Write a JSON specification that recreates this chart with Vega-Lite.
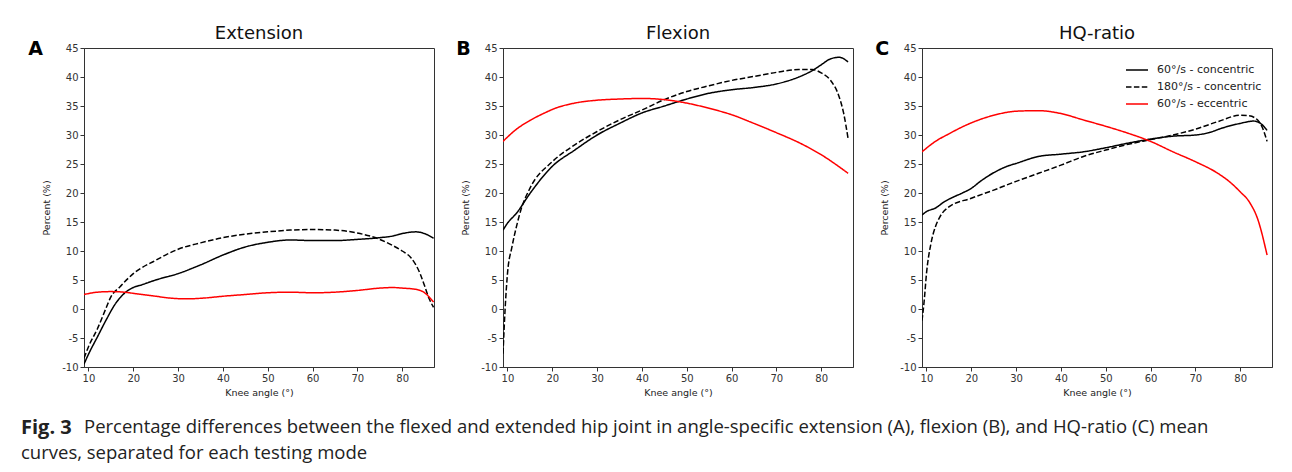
{
  "$schema": "https://vega.github.io/schema/vega-lite/v6.json",
  "padding": {"left": 21, "top": 24, "right": 5, "bottom": 5},
  "background": "white",
  "config": {
    "font": "DejaVu Sans",
    "view": {"stroke": "#333333", "strokeWidth": 1},
    "axis": {"grid": false, "labelFontSize": 10, "labelColor": "#333333", "labelFont": "DejaVu Sans", "tickColor": "#333333", "domainColor": "#333333", "titleFontSize": 9.5, "titleFontWeight": "normal", "titleColor": "#222222", "titleFont": "DejaVu Sans", "tickSize": 4, "labelPadding": 2, "labelExpr": "'' + datum.value"},
    "axisY": {"titlePadding": 10},
    "title": {"fontSize": 18, "fontWeight": "normal", "color": "#111111", "font": "DejaVu Sans"},
    "legend": {"labelFontSize": 11, "labelColor": "#222222", "labelFont": "DejaVu Sans", "symbolType": "stroke", "symbolStrokeWidth": 1.5, "symbolSize": 484, "rowPadding": -5, "labelOffset": 8, "padding": 0}
  },
  "title": {"text": "curves, separated for each testing mode", "orient": "bottom", "anchor": "start", "frame": "group", "font": "Open Sans", "fontSize": 18.5, "fontWeight": "normal", "color": "#222222", "offset": 6, "dx": -63},
  "datasets": {
    "curves": [
      {"panel": "A", "mode": "60°/s - concentric", "angle": 9, "pct": -9.5},
      {"panel": "A", "mode": "60°/s - concentric", "angle": 10, "pct": -7.8},
      {"panel": "A", "mode": "60°/s - concentric", "angle": 12, "pct": -4.8},
      {"panel": "A", "mode": "60°/s - concentric", "angle": 14, "pct": -1.8},
      {"panel": "A", "mode": "60°/s - concentric", "angle": 16, "pct": 0.9},
      {"panel": "A", "mode": "60°/s - concentric", "angle": 18, "pct": 2.7},
      {"panel": "A", "mode": "60°/s - concentric", "angle": 20, "pct": 3.7},
      {"panel": "A", "mode": "60°/s - concentric", "angle": 22, "pct": 4.2},
      {"panel": "A", "mode": "60°/s - concentric", "angle": 25, "pct": 5.0},
      {"panel": "A", "mode": "60°/s - concentric", "angle": 30, "pct": 6.1},
      {"panel": "A", "mode": "60°/s - concentric", "angle": 35, "pct": 7.6},
      {"panel": "A", "mode": "60°/s - concentric", "angle": 40, "pct": 9.3},
      {"panel": "A", "mode": "60°/s - concentric", "angle": 45, "pct": 10.7},
      {"panel": "A", "mode": "60°/s - concentric", "angle": 50, "pct": 11.5},
      {"panel": "A", "mode": "60°/s - concentric", "angle": 55, "pct": 11.9},
      {"panel": "A", "mode": "60°/s - concentric", "angle": 60, "pct": 11.8},
      {"panel": "A", "mode": "60°/s - concentric", "angle": 65, "pct": 11.8},
      {"panel": "A", "mode": "60°/s - concentric", "angle": 70, "pct": 12.0},
      {"panel": "A", "mode": "60°/s - concentric", "angle": 75, "pct": 12.3},
      {"panel": "A", "mode": "60°/s - concentric", "angle": 78, "pct": 12.6},
      {"panel": "A", "mode": "60°/s - concentric", "angle": 80, "pct": 13.0},
      {"panel": "A", "mode": "60°/s - concentric", "angle": 83, "pct": 13.3},
      {"panel": "A", "mode": "60°/s - concentric", "angle": 85, "pct": 13.0},
      {"panel": "A", "mode": "60°/s - concentric", "angle": 87, "pct": 12.2},
      {"panel": "A", "mode": "180°/s - concentric", "angle": 9, "pct": -8.5},
      {"panel": "A", "mode": "180°/s - concentric", "angle": 10, "pct": -6.5},
      {"panel": "A", "mode": "180°/s - concentric", "angle": 12, "pct": -3.4},
      {"panel": "A", "mode": "180°/s - concentric", "angle": 14, "pct": 0.3},
      {"panel": "A", "mode": "180°/s - concentric", "angle": 15, "pct": 2.1},
      {"panel": "A", "mode": "180°/s - concentric", "angle": 17, "pct": 3.8},
      {"panel": "A", "mode": "180°/s - concentric", "angle": 20, "pct": 6.1},
      {"panel": "A", "mode": "180°/s - concentric", "angle": 25, "pct": 8.4},
      {"panel": "A", "mode": "180°/s - concentric", "angle": 30, "pct": 10.3},
      {"panel": "A", "mode": "180°/s - concentric", "angle": 35, "pct": 11.4},
      {"panel": "A", "mode": "180°/s - concentric", "angle": 40, "pct": 12.3},
      {"panel": "A", "mode": "180°/s - concentric", "angle": 45, "pct": 12.9},
      {"panel": "A", "mode": "180°/s - concentric", "angle": 50, "pct": 13.3},
      {"panel": "A", "mode": "180°/s - concentric", "angle": 55, "pct": 13.6},
      {"panel": "A", "mode": "180°/s - concentric", "angle": 60, "pct": 13.7},
      {"panel": "A", "mode": "180°/s - concentric", "angle": 65, "pct": 13.6},
      {"panel": "A", "mode": "180°/s - concentric", "angle": 70, "pct": 13.1},
      {"panel": "A", "mode": "180°/s - concentric", "angle": 75, "pct": 12.0},
      {"panel": "A", "mode": "180°/s - concentric", "angle": 78, "pct": 10.9},
      {"panel": "A", "mode": "180°/s - concentric", "angle": 80, "pct": 10.0},
      {"panel": "A", "mode": "180°/s - concentric", "angle": 82, "pct": 8.8},
      {"panel": "A", "mode": "180°/s - concentric", "angle": 84, "pct": 6.1},
      {"panel": "A", "mode": "180°/s - concentric", "angle": 85, "pct": 4.0},
      {"panel": "A", "mode": "180°/s - concentric", "angle": 86, "pct": 1.8},
      {"panel": "A", "mode": "180°/s - concentric", "angle": 87, "pct": 0.3},
      {"panel": "A", "mode": "60°/s - eccentric", "angle": 9, "pct": 2.5},
      {"panel": "A", "mode": "60°/s - eccentric", "angle": 12, "pct": 2.9},
      {"panel": "A", "mode": "60°/s - eccentric", "angle": 15, "pct": 3.0},
      {"panel": "A", "mode": "60°/s - eccentric", "angle": 18, "pct": 2.9},
      {"panel": "A", "mode": "60°/s - eccentric", "angle": 20, "pct": 2.7},
      {"panel": "A", "mode": "60°/s - eccentric", "angle": 25, "pct": 2.2},
      {"panel": "A", "mode": "60°/s - eccentric", "angle": 28, "pct": 1.9},
      {"panel": "A", "mode": "60°/s - eccentric", "angle": 32, "pct": 1.75},
      {"panel": "A", "mode": "60°/s - eccentric", "angle": 36, "pct": 1.9},
      {"panel": "A", "mode": "60°/s - eccentric", "angle": 40, "pct": 2.2},
      {"panel": "A", "mode": "60°/s - eccentric", "angle": 45, "pct": 2.5},
      {"panel": "A", "mode": "60°/s - eccentric", "angle": 50, "pct": 2.8},
      {"panel": "A", "mode": "60°/s - eccentric", "angle": 55, "pct": 2.9},
      {"panel": "A", "mode": "60°/s - eccentric", "angle": 60, "pct": 2.8},
      {"panel": "A", "mode": "60°/s - eccentric", "angle": 65, "pct": 2.9},
      {"panel": "A", "mode": "60°/s - eccentric", "angle": 70, "pct": 3.2},
      {"panel": "A", "mode": "60°/s - eccentric", "angle": 75, "pct": 3.6},
      {"panel": "A", "mode": "60°/s - eccentric", "angle": 78, "pct": 3.7},
      {"panel": "A", "mode": "60°/s - eccentric", "angle": 80, "pct": 3.6},
      {"panel": "A", "mode": "60°/s - eccentric", "angle": 83, "pct": 3.4},
      {"panel": "A", "mode": "60°/s - eccentric", "angle": 85, "pct": 2.8},
      {"panel": "A", "mode": "60°/s - eccentric", "angle": 87, "pct": 1.2},
      {"panel": "B", "mode": "60°/s - concentric", "angle": 9, "pct": 13.6},
      {"panel": "B", "mode": "60°/s - concentric", "angle": 10, "pct": 14.8},
      {"panel": "B", "mode": "60°/s - concentric", "angle": 12, "pct": 16.5},
      {"panel": "B", "mode": "60°/s - concentric", "angle": 15, "pct": 19.9},
      {"panel": "B", "mode": "60°/s - concentric", "angle": 20, "pct": 24.6},
      {"panel": "B", "mode": "60°/s - concentric", "angle": 25, "pct": 27.4},
      {"panel": "B", "mode": "60°/s - concentric", "angle": 30, "pct": 30.0},
      {"panel": "B", "mode": "60°/s - concentric", "angle": 35, "pct": 32.0},
      {"panel": "B", "mode": "60°/s - concentric", "angle": 40, "pct": 33.8},
      {"panel": "B", "mode": "60°/s - concentric", "angle": 45, "pct": 35.0},
      {"panel": "B", "mode": "60°/s - concentric", "angle": 50, "pct": 36.2},
      {"panel": "B", "mode": "60°/s - concentric", "angle": 55, "pct": 37.2},
      {"panel": "B", "mode": "60°/s - concentric", "angle": 60, "pct": 37.8},
      {"panel": "B", "mode": "60°/s - concentric", "angle": 65, "pct": 38.2},
      {"panel": "B", "mode": "60°/s - concentric", "angle": 70, "pct": 38.8},
      {"panel": "B", "mode": "60°/s - concentric", "angle": 75, "pct": 40.0},
      {"panel": "B", "mode": "60°/s - concentric", "angle": 78, "pct": 41.1},
      {"panel": "B", "mode": "60°/s - concentric", "angle": 80, "pct": 42.1},
      {"panel": "B", "mode": "60°/s - concentric", "angle": 82, "pct": 43.1},
      {"panel": "B", "mode": "60°/s - concentric", "angle": 84, "pct": 43.4},
      {"panel": "B", "mode": "60°/s - concentric", "angle": 86, "pct": 42.6},
      {"panel": "B", "mode": "180°/s - concentric", "angle": 9, "pct": -7.7},
      {"panel": "B", "mode": "180°/s - concentric", "angle": 9.5, "pct": 0.4},
      {"panel": "B", "mode": "180°/s - concentric", "angle": 10, "pct": 6.1},
      {"panel": "B", "mode": "180°/s - concentric", "angle": 11, "pct": 10.7},
      {"panel": "B", "mode": "180°/s - concentric", "angle": 12, "pct": 14.2},
      {"panel": "B", "mode": "180°/s - concentric", "angle": 13, "pct": 17.1},
      {"panel": "B", "mode": "180°/s - concentric", "angle": 15, "pct": 20.8},
      {"panel": "B", "mode": "180°/s - concentric", "angle": 20, "pct": 25.4},
      {"panel": "B", "mode": "180°/s - concentric", "angle": 25, "pct": 28.3},
      {"panel": "B", "mode": "180°/s - concentric", "angle": 30, "pct": 30.6},
      {"panel": "B", "mode": "180°/s - concentric", "angle": 35, "pct": 32.6},
      {"panel": "B", "mode": "180°/s - concentric", "angle": 40, "pct": 34.3},
      {"panel": "B", "mode": "180°/s - concentric", "angle": 45, "pct": 36.1},
      {"panel": "B", "mode": "180°/s - concentric", "angle": 50, "pct": 37.5},
      {"panel": "B", "mode": "180°/s - concentric", "angle": 55, "pct": 38.5},
      {"panel": "B", "mode": "180°/s - concentric", "angle": 60, "pct": 39.4},
      {"panel": "B", "mode": "180°/s - concentric", "angle": 65, "pct": 40.1},
      {"panel": "B", "mode": "180°/s - concentric", "angle": 70, "pct": 40.8},
      {"panel": "B", "mode": "180°/s - concentric", "angle": 75, "pct": 41.3},
      {"panel": "B", "mode": "180°/s - concentric", "angle": 78, "pct": 41.3},
      {"panel": "B", "mode": "180°/s - concentric", "angle": 80, "pct": 40.7},
      {"panel": "B", "mode": "180°/s - concentric", "angle": 82, "pct": 39.5},
      {"panel": "B", "mode": "180°/s - concentric", "angle": 84, "pct": 36.6},
      {"panel": "B", "mode": "180°/s - concentric", "angle": 85, "pct": 33.8},
      {"panel": "B", "mode": "180°/s - concentric", "angle": 86, "pct": 29.4},
      {"panel": "B", "mode": "60°/s - eccentric", "angle": 9, "pct": 28.9},
      {"panel": "B", "mode": "60°/s - eccentric", "angle": 12, "pct": 31.0},
      {"panel": "B", "mode": "60°/s - eccentric", "angle": 15, "pct": 32.5},
      {"panel": "B", "mode": "60°/s - eccentric", "angle": 18, "pct": 33.7},
      {"panel": "B", "mode": "60°/s - eccentric", "angle": 21, "pct": 34.7},
      {"panel": "B", "mode": "60°/s - eccentric", "angle": 25, "pct": 35.5},
      {"panel": "B", "mode": "60°/s - eccentric", "angle": 30, "pct": 36.0},
      {"panel": "B", "mode": "60°/s - eccentric", "angle": 35, "pct": 36.2},
      {"panel": "B", "mode": "60°/s - eccentric", "angle": 40, "pct": 36.3},
      {"panel": "B", "mode": "60°/s - eccentric", "angle": 45, "pct": 36.1},
      {"panel": "B", "mode": "60°/s - eccentric", "angle": 50, "pct": 35.5},
      {"panel": "B", "mode": "60°/s - eccentric", "angle": 55, "pct": 34.6},
      {"panel": "B", "mode": "60°/s - eccentric", "angle": 60, "pct": 33.5},
      {"panel": "B", "mode": "60°/s - eccentric", "angle": 65, "pct": 32.0},
      {"panel": "B", "mode": "60°/s - eccentric", "angle": 70, "pct": 30.4},
      {"panel": "B", "mode": "60°/s - eccentric", "angle": 75, "pct": 28.7},
      {"panel": "B", "mode": "60°/s - eccentric", "angle": 80, "pct": 26.6},
      {"panel": "B", "mode": "60°/s - eccentric", "angle": 86, "pct": 23.4},
      {"panel": "C", "mode": "60°/s - concentric", "angle": 9, "pct": 16.2},
      {"panel": "C", "mode": "60°/s - concentric", "angle": 10, "pct": 16.8},
      {"panel": "C", "mode": "60°/s - concentric", "angle": 12, "pct": 17.4},
      {"panel": "C", "mode": "60°/s - concentric", "angle": 14, "pct": 18.5},
      {"panel": "C", "mode": "60°/s - concentric", "angle": 16, "pct": 19.3},
      {"panel": "C", "mode": "60°/s - concentric", "angle": 18, "pct": 20.0},
      {"panel": "C", "mode": "60°/s - concentric", "angle": 20, "pct": 20.8},
      {"panel": "C", "mode": "60°/s - concentric", "angle": 22, "pct": 22.0},
      {"panel": "C", "mode": "60°/s - concentric", "angle": 25, "pct": 23.5},
      {"panel": "C", "mode": "60°/s - concentric", "angle": 28, "pct": 24.6},
      {"panel": "C", "mode": "60°/s - concentric", "angle": 30, "pct": 25.1},
      {"panel": "C", "mode": "60°/s - concentric", "angle": 35, "pct": 26.3},
      {"panel": "C", "mode": "60°/s - concentric", "angle": 40, "pct": 26.7},
      {"panel": "C", "mode": "60°/s - concentric", "angle": 45, "pct": 27.1},
      {"panel": "C", "mode": "60°/s - concentric", "angle": 50, "pct": 27.8},
      {"panel": "C", "mode": "60°/s - concentric", "angle": 55, "pct": 28.6},
      {"panel": "C", "mode": "60°/s - concentric", "angle": 60, "pct": 29.3},
      {"panel": "C", "mode": "60°/s - concentric", "angle": 65, "pct": 29.8},
      {"panel": "C", "mode": "60°/s - concentric", "angle": 70, "pct": 30.0},
      {"panel": "C", "mode": "60°/s - concentric", "angle": 73, "pct": 30.4},
      {"panel": "C", "mode": "60°/s - concentric", "angle": 76, "pct": 31.2},
      {"panel": "C", "mode": "60°/s - concentric", "angle": 80, "pct": 32.0},
      {"panel": "C", "mode": "60°/s - concentric", "angle": 83, "pct": 32.4},
      {"panel": "C", "mode": "60°/s - concentric", "angle": 85, "pct": 31.7},
      {"panel": "C", "mode": "60°/s - concentric", "angle": 86, "pct": 30.8},
      {"panel": "C", "mode": "180°/s - concentric", "angle": 9, "pct": -2.0},
      {"panel": "C", "mode": "180°/s - concentric", "angle": 9.5, "pct": 1.5},
      {"panel": "C", "mode": "180°/s - concentric", "angle": 10, "pct": 6.1},
      {"panel": "C", "mode": "180°/s - concentric", "angle": 11, "pct": 11.3},
      {"panel": "C", "mode": "180°/s - concentric", "angle": 12, "pct": 14.2},
      {"panel": "C", "mode": "180°/s - concentric", "angle": 13, "pct": 15.9},
      {"panel": "C", "mode": "180°/s - concentric", "angle": 15, "pct": 17.6},
      {"panel": "C", "mode": "180°/s - concentric", "angle": 20, "pct": 19.1},
      {"panel": "C", "mode": "180°/s - concentric", "angle": 25, "pct": 20.5},
      {"panel": "C", "mode": "180°/s - concentric", "angle": 30, "pct": 22.0},
      {"panel": "C", "mode": "180°/s - concentric", "angle": 35, "pct": 23.4},
      {"panel": "C", "mode": "180°/s - concentric", "angle": 40, "pct": 24.8},
      {"panel": "C", "mode": "180°/s - concentric", "angle": 45, "pct": 26.3},
      {"panel": "C", "mode": "180°/s - concentric", "angle": 50, "pct": 27.4},
      {"panel": "C", "mode": "180°/s - concentric", "angle": 55, "pct": 28.4},
      {"panel": "C", "mode": "180°/s - concentric", "angle": 60, "pct": 29.2},
      {"panel": "C", "mode": "180°/s - concentric", "angle": 65, "pct": 30.0},
      {"panel": "C", "mode": "180°/s - concentric", "angle": 70, "pct": 31.0},
      {"panel": "C", "mode": "180°/s - concentric", "angle": 75, "pct": 32.3},
      {"panel": "C", "mode": "180°/s - concentric", "angle": 80, "pct": 33.4},
      {"panel": "C", "mode": "180°/s - concentric", "angle": 82, "pct": 33.3},
      {"panel": "C", "mode": "180°/s - concentric", "angle": 84, "pct": 32.5},
      {"panel": "C", "mode": "180°/s - concentric", "angle": 85, "pct": 31.2},
      {"panel": "C", "mode": "180°/s - concentric", "angle": 86, "pct": 28.9},
      {"panel": "C", "mode": "60°/s - eccentric", "angle": 9, "pct": 27.1},
      {"panel": "C", "mode": "60°/s - eccentric", "angle": 12, "pct": 28.9},
      {"panel": "C", "mode": "60°/s - eccentric", "angle": 15, "pct": 30.2},
      {"panel": "C", "mode": "60°/s - eccentric", "angle": 18, "pct": 31.4},
      {"panel": "C", "mode": "60°/s - eccentric", "angle": 21, "pct": 32.4},
      {"panel": "C", "mode": "60°/s - eccentric", "angle": 25, "pct": 33.4},
      {"panel": "C", "mode": "60°/s - eccentric", "angle": 30, "pct": 34.1},
      {"panel": "C", "mode": "60°/s - eccentric", "angle": 35, "pct": 34.2},
      {"panel": "C", "mode": "60°/s - eccentric", "angle": 40, "pct": 33.7},
      {"panel": "C", "mode": "60°/s - eccentric", "angle": 45, "pct": 32.6},
      {"panel": "C", "mode": "60°/s - eccentric", "angle": 50, "pct": 31.5},
      {"panel": "C", "mode": "60°/s - eccentric", "angle": 55, "pct": 30.3},
      {"panel": "C", "mode": "60°/s - eccentric", "angle": 60, "pct": 28.9},
      {"panel": "C", "mode": "60°/s - eccentric", "angle": 65, "pct": 27.1},
      {"panel": "C", "mode": "60°/s - eccentric", "angle": 70, "pct": 25.4},
      {"panel": "C", "mode": "60°/s - eccentric", "angle": 75, "pct": 23.4},
      {"panel": "C", "mode": "60°/s - eccentric", "angle": 78, "pct": 21.7},
      {"panel": "C", "mode": "60°/s - eccentric", "angle": 80, "pct": 20.2},
      {"panel": "C", "mode": "60°/s - eccentric", "angle": 82, "pct": 18.5},
      {"panel": "C", "mode": "60°/s - eccentric", "angle": 84, "pct": 15.3},
      {"panel": "C", "mode": "60°/s - eccentric", "angle": 86, "pct": 9.3}
    ]
  },
  "vconcat": [
    {
      "title": {"text": "Percentage differences between the flexed and extended hip joint in angle-specific extension (A), flexion (B), and HQ-ratio (C) mean", "orient": "bottom", "anchor": "start", "frame": "group", "font": "Open Sans", "fontSize": 18.5, "fontWeight": "normal", "color": "#222222", "dx": 0, "dy": -20, "offset": 0},
      "vconcat": [
        {
          "title": {"text": "Fig. 3", "orient": "bottom", "anchor": "start", "frame": "group", "font": "Open Sans", "fontSize": 20, "fontWeight": "bold", "color": "#222222", "offset": 21, "dx": -63},
          "hconcat": [
            {
              "title": {"text": "A", "anchor": "start", "frame": "bounds", "fontSize": 19, "fontWeight": "bold", "color": "#000000", "dy": 34, "dx": -13, "offset": 0},
              "resolve": {"legend": {"color": "independent", "strokeDash": "independent"}},
              "vconcat": [
                {
                  "width": 350, "height": 319,
                  "title": {"text": "Extension", "offset": 0},
                  "data": {"name": "curves"},
                  "transform": [{"filter": "datum.panel === 'A'"}],
                  "mark": {"type": "line", "strokeWidth": 1.5, "interpolate": "monotone", "clip": true},
                  "encoding": {
                    "x": {"field": "angle", "type": "quantitative", "scale": {"domain": [9, 87.1], "nice": false, "zero": false}, "axis": {"values": [10, 20, 30, 40, 50, 60, 70, 80], "title": "Knee angle (°)"}},
                    "y": {"field": "pct", "type": "quantitative", "scale": {"domain": [-10, 45], "nice": false, "zero": false}, "axis": {"values": [-10, -5, 0, 5, 10, 15, 20, 25, 30, 35, 40, 45], "title": "Percent (%)", "labelFlush": false}},
                    "color": {"field": "mode", "type": "nominal", "scale": {"domain": ["60°/s - concentric", "180°/s - concentric", "60°/s - eccentric"], "range": ["#000000", "#000000", "#ff0000"]}, "legend": null},
                    "strokeDash": {"field": "mode", "type": "nominal", "scale": {"domain": ["60°/s - concentric", "180°/s - concentric", "60°/s - eccentric"], "range": [[1, 0], [5.5, 2.4], [1, 0]]}, "legend": null}
                  }
                }
              ]
            },
            {
              "title": {"text": "B", "anchor": "start", "frame": "bounds", "fontSize": 19, "fontWeight": "bold", "color": "#000000", "dy": 34, "dx": -4, "offset": 0},
              "resolve": {"legend": {"color": "independent", "strokeDash": "independent"}},
              "vconcat": [
                {
                  "width": 350, "height": 319,
                  "title": {"text": "Flexion", "offset": 0},
                  "data": {"name": "curves"},
                  "transform": [{"filter": "datum.panel === 'B'"}],
                  "mark": {"type": "line", "strokeWidth": 1.5, "interpolate": "monotone", "clip": true},
                  "encoding": {
                    "x": {"field": "angle", "type": "quantitative", "scale": {"domain": [9, 87.1], "nice": false, "zero": false}, "axis": {"values": [10, 20, 30, 40, 50, 60, 70, 80], "title": "Knee angle (°)"}},
                    "y": {"field": "pct", "type": "quantitative", "scale": {"domain": [-10, 45], "nice": false, "zero": false}, "axis": {"values": [-10, -5, 0, 5, 10, 15, 20, 25, 30, 35, 40, 45], "title": "Percent (%)", "labelFlush": false}},
                    "color": {"field": "mode", "type": "nominal", "scale": {"domain": ["60°/s - concentric", "180°/s - concentric", "60°/s - eccentric"], "range": ["#000000", "#000000", "#ff0000"]}, "legend": null},
                    "strokeDash": {"field": "mode", "type": "nominal", "scale": {"domain": ["60°/s - concentric", "180°/s - concentric", "60°/s - eccentric"], "range": [[1, 0], [5.5, 2.4], [1, 0]]}, "legend": null}
                  }
                }
              ]
            },
            {
              "title": {"text": "C", "anchor": "start", "frame": "bounds", "fontSize": 19, "fontWeight": "bold", "color": "#000000", "dy": 34, "dx": -4, "offset": 0},
              "resolve": {"legend": {"color": "independent", "strokeDash": "independent"}},
              "vconcat": [
                {
                  "width": 350, "height": 319,
                  "title": {"text": "HQ-ratio", "offset": 0},
                  "data": {"name": "curves"},
                  "transform": [{"filter": "datum.panel === 'C'"}],
                  "mark": {"type": "line", "strokeWidth": 1.5, "interpolate": "monotone", "clip": true},
                  "encoding": {
                    "x": {"field": "angle", "type": "quantitative", "scale": {"domain": [9, 87.1], "nice": false, "zero": false}, "axis": {"values": [10, 20, 30, 40, 50, 60, 70, 80], "title": "Knee angle (°)"}},
                    "y": {"field": "pct", "type": "quantitative", "scale": {"domain": [-10, 45], "nice": false, "zero": false}, "axis": {"values": [-10, -5, 0, 5, 10, 15, 20, 25, 30, 35, 40, 45], "title": "Percent (%)", "labelFlush": false}},
                    "color": {"field": "mode", "type": "nominal", "scale": {"domain": ["60°/s - concentric", "180°/s - concentric", "60°/s - eccentric"], "range": ["#000000", "#000000", "#ff0000"]}, "legend": {"title": null, "orient": "top-right", "offset": 10}},
                    "strokeDash": {"field": "mode", "type": "nominal", "scale": {"domain": ["60°/s - concentric", "180°/s - concentric", "60°/s - eccentric"], "range": [[1, 0], [5.5, 2.4], [1, 0]]}, "legend": {"title": null, "orient": "top-right", "offset": 10}}
                  }
                }
              ]
            }
          ],
          "spacing": 21,
          "resolve": {"legend": {"color": "independent", "strokeDash": "independent"}}
        }
      ]
    }
  ]
}
